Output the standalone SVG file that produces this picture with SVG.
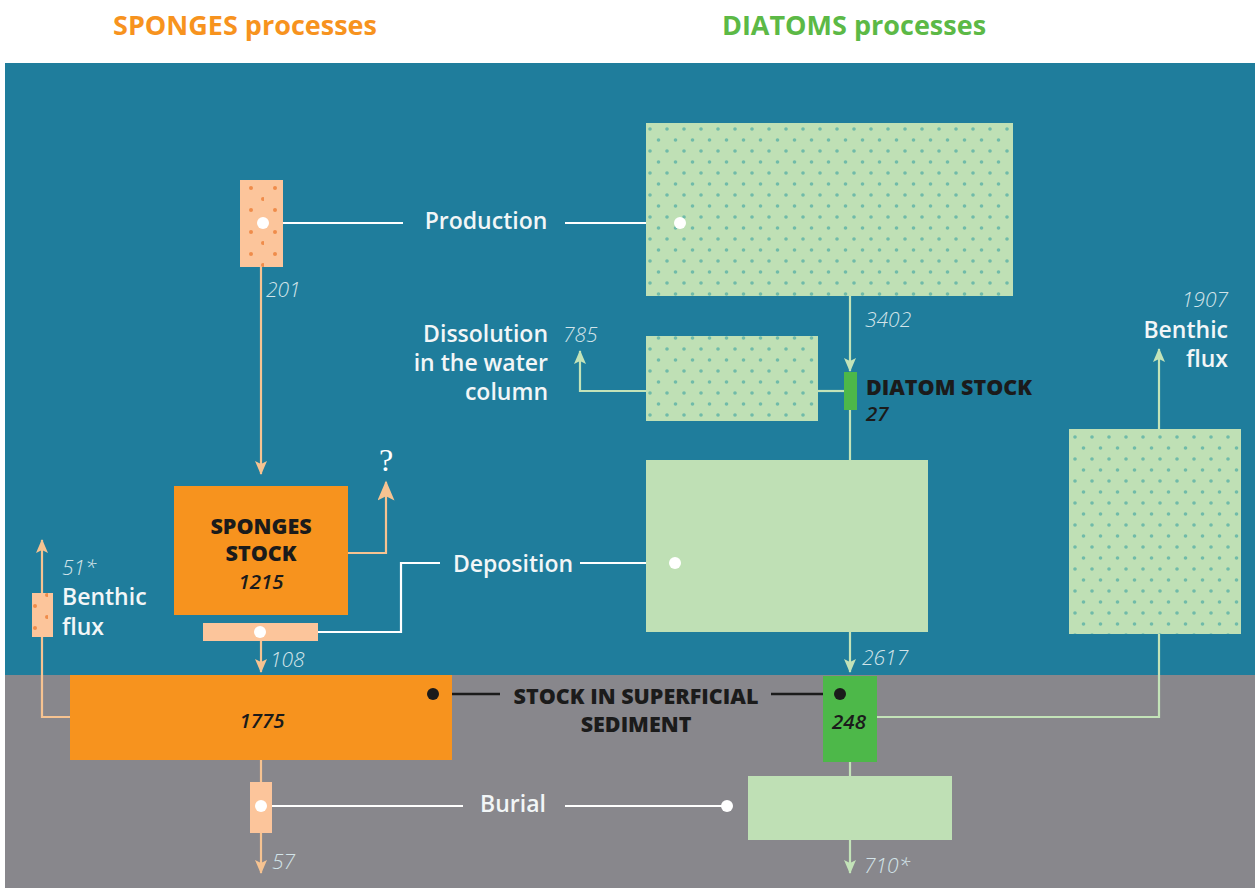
<svg xmlns="http://www.w3.org/2000/svg" width="1255" height="888" viewBox="0 0 1255 888">
<defs>
<style>
.title{font-family:"Open Sans","Liberation Sans",sans-serif;font-weight:700;font-size:27px}
.lbl{font-family:"Open Sans","Liberation Sans",sans-serif;font-weight:600;font-size:23px;fill:#f2f6f7}
.num{font-family:"Open Sans","Liberation Sans",sans-serif;font-style:italic;font-weight:300;font-size:21px;fill:#d3e4e9}
.dark{font-family:"Open Sans","Liberation Sans",sans-serif;font-weight:800;font-size:21.5px;fill:#1b1b1b}
.darknum{font-family:"Open Sans","Liberation Sans",sans-serif;font-style:italic;font-weight:600;font-size:20.5px;fill:#1b1b1b}
.pl{fill:none;stroke:#f6c391;stroke-width:2.2}
.gl{fill:none;stroke:#c3e3b8;stroke-width:2.2}
.wl{fill:none;stroke:#ffffff;stroke-width:2.2}
.bl{fill:none;stroke:#1b1b1b;stroke-width:2.5}
.peach{fill:#fcc59b}
.lg{fill:#bfe0b5}
.orange{fill:#f7931e}
.green{fill:#4db849}
</style>
<pattern id="gdots" patternUnits="userSpaceOnUse" width="17" height="22" x="646" y="123">
<rect width="17" height="22" fill="#bfe0b5"/>
<circle cx="4" cy="6" r="1.8" fill="#70bba9"/>
<circle cx="12.5" cy="17" r="1.8" fill="#70bba9"/>
</pattern>
<pattern id="pdots" patternUnits="userSpaceOnUse" width="24" height="22" x="240" y="180">
<rect width="24" height="22" fill="#fcc59b"/>
<circle cx="11" cy="8" r="2" fill="#f08c4a"/>
<circle cx="23" cy="19" r="2" fill="#f08c4a"/>
</pattern>
<marker id="ap" viewBox="0 0 14 12" refX="13" refY="6" markerWidth="14" markerHeight="12" orient="auto" markerUnits="userSpaceOnUse">
<path d="M0,0 L14,6 L0,12 L3,6 Z" fill="#f6c391"/>
</marker>
<marker id="ag" viewBox="0 0 14 12" refX="13" refY="6" markerWidth="14" markerHeight="12" orient="auto" markerUnits="userSpaceOnUse">
<path d="M0,0 L14,6 L0,12 L3,6 Z" fill="#c3e3b8"/>
</marker>
<marker id="aq" viewBox="0 0 14 12" refX="13" refY="6" markerWidth="22" markerHeight="17" orient="auto" markerUnits="userSpaceOnUse">
<path d="M0,0 L14,6 L0,12 L3,6 Z" fill="#f6c391"/>
</marker>
</defs>

<g id="background">
<rect x="0" y="0" width="1255" height="888" fill="#ffffff"/>
<rect x="5" y="63" width="1250" height="613" fill="#1f7d9c"/>
<rect x="5" y="675" width="1250" height="213" fill="#88878c"/>
</g>

<g id="titles">
<text class="title" x="245" y="35" text-anchor="middle" fill="#f7931e">SPONGES processes</text>
<text class="title" x="854" y="35" text-anchor="middle" fill="#5cb946">DIATOMS processes</text>
</g>

<g id="connectors">
<path class="pl" d="M261,267 V474" marker-end="url(#ap)"/>
<path class="pl" d="M348,553 H386 V482" marker-end="url(#aq)"/>
<path class="pl" d="M261,641 V672" marker-end="url(#ap)"/>
<path class="pl" d="M70,717 H42 V540" marker-end="url(#ap)"/>
<path class="pl" d="M261,760 V873" marker-end="url(#ap)"/>
<path class="gl" d="M850,296 V371" marker-end="url(#ag)"/>
<path class="gl" d="M844,391 H580 V351" marker-end="url(#ag)"/>
<path class="gl" d="M850,410 V460"/>
<path class="gl" d="M850,632 V672" marker-end="url(#ag)"/>
<path class="gl" d="M850,762 V776"/>
<path class="gl" d="M850,840 V873" marker-end="url(#ag)"/>
<path class="gl" d="M877,717 H1159 V634"/>
<path class="gl" d="M1159,429 V349" marker-end="url(#ag)"/>
<path class="wl" d="M263,223 H403"/>
<path class="wl" d="M565,223 H680"/>
<path class="wl" d="M260,632 H401 V563 H440"/>
<path class="wl" d="M580,563 H675"/>
<path class="wl" d="M261,806 H463"/>
<path class="wl" d="M565,806 H727"/>
<path class="bl" d="M433,694 H500"/>
<path class="bl" d="M771,694 H840"/>
</g>

<g id="sponge-production">
<rect x="240" y="180" width="43" height="87" fill="url(#pdots)"/>
<circle cx="263" cy="223" r="6" fill="#ffffff"/>
<text class="num" x="266" y="297">201</text>
</g>

<g id="production-label">
<text class="lbl" x="486" y="229" text-anchor="middle">Production</text>
</g>

<g id="diatom-production">
<rect x="646" y="123" width="367" height="173" fill="url(#gdots)"/>
<circle cx="680" cy="223" r="6" fill="#ffffff"/>
<text class="num" x="865" y="327">3402</text>
</g>

<g id="diatom-dissolution">
<rect x="646" y="336" width="172" height="85" fill="url(#gdots)"/>
<path class="gl" d="M818,391 H844"/>
<text class="num" x="563" y="342">785</text>
<text class="lbl" x="548" y="342" text-anchor="end">Dissolution</text>
<text class="lbl" x="548" y="371" text-anchor="end">in the water</text>
<text class="lbl" x="548" y="400" text-anchor="end">column</text>
</g>

<g id="diatom-stock">
<rect x="844" y="372" width="13" height="38" class="green"/>
<text class="dark" x="866" y="395">DIATOM STOCK</text>
<text class="darknum" x="866" y="421">27</text>
</g>

<g id="sponges-stock">
<rect x="174" y="486" width="174" height="129" class="orange"/>
<text class="dark" x="261" y="534" text-anchor="middle">SPONGES</text>
<text class="dark" x="261" y="561" text-anchor="middle">STOCK</text>
<text class="darknum" x="261" y="589" text-anchor="middle">1215</text>
<text x="386" y="471" text-anchor="middle" font-family="'Liberation Serif',serif" font-size="32" fill="#ffffff">?</text>
</g>

<g id="sponge-deposition">
<rect x="203" y="623" width="115" height="18" class="peach"/>
<circle cx="260" cy="632" r="6" fill="#ffffff"/>
<text class="num" x="270" y="667">108</text>
</g>

<g id="deposition-label">
<text class="lbl" x="513" y="572" text-anchor="middle">Deposition</text>
</g>

<g id="diatom-deposition">
<rect x="646" y="460" width="282" height="172" class="lg"/>
<circle cx="675" cy="563" r="6" fill="#ffffff"/>
<text class="num" x="862" y="665">2617</text>
</g>

<g id="diatom-benthic-flux">
<rect x="1069" y="429" width="172" height="205" fill="url(#gdots)"/>
<text class="num" x="1228" y="307" text-anchor="end">1907</text>
<text class="lbl" x="1228" y="338" text-anchor="end">Benthic</text>
<text class="lbl" x="1228" y="367" text-anchor="end">flux</text>
</g>

<g id="sponge-benthic-flux">
<rect x="32" y="593" width="21" height="44" fill="url(#pdots)"/>
<text class="num" x="62" y="575">51*</text>
<text class="lbl" x="62" y="605">Benthic</text>
<text class="lbl" x="62" y="635">flux</text>
</g>

<g id="sponge-sediment">
<rect x="70" y="675" width="382" height="85" class="orange"/>
<text class="darknum" x="262" y="728" text-anchor="middle">1775</text>
<circle cx="433" cy="694" r="6" fill="#1b1b1b"/>
</g>

<g id="sediment-label">
<text class="dark" x="636" y="704" text-anchor="middle">STOCK IN SUPERFICIAL</text>
<text class="dark" x="636" y="732" text-anchor="middle">SEDIMENT</text>
</g>

<g id="diatom-sediment">
<rect x="823" y="676" width="54" height="86" class="green"/>
<circle cx="840" cy="694" r="6" fill="#1b1b1b"/>
<text class="darknum" x="849" y="729" text-anchor="middle">248</text>
</g>

<g id="sponge-burial">
<rect x="250" y="782" width="22" height="51" class="peach"/>
<circle cx="261" cy="806" r="6" fill="#ffffff"/>
<text class="num" x="272" y="869">57</text>
</g>

<g id="burial-label">
<text class="lbl" x="513" y="812" text-anchor="middle">Burial</text>
</g>

<g id="diatom-burial">
<rect x="748" y="776" width="204" height="64" class="lg"/>
<circle cx="727" cy="806" r="6" fill="#ffffff"/>
<text class="num" x="864" y="873">710*</text>
</g>
</svg>
